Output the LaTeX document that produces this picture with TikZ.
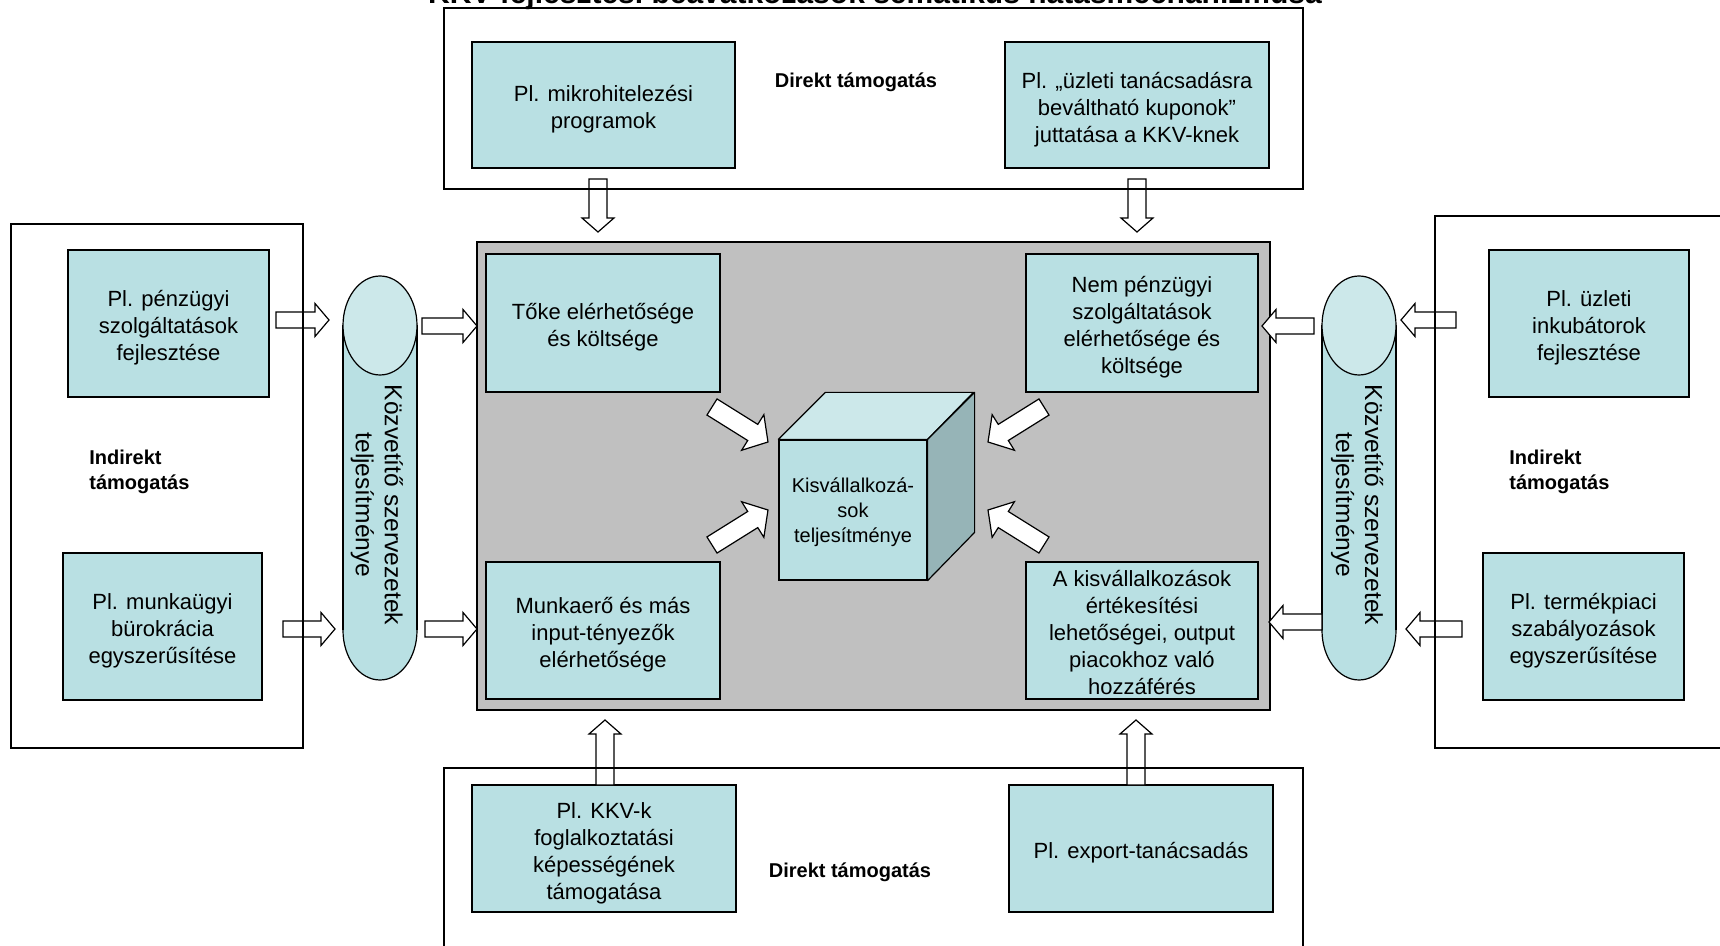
\documentclass[tikz,border=0pt]{standalone}
\usepackage{fontspec}
\setmainfont{Liberation Sans}
\usetikzlibrary{fit,calc}
\definecolor{boxfill}{HTML}{B9E0E3}
\definecolor{topfill}{HTML}{CCE8EA}
\definecolor{sidefill}{HTML}{96B4B7}
\definecolor{graybg}{HTML}{C0C0C0}
\newcommand\tp{\rule{0pt}{12.3pt}}
\newcommand\tpsmall{\rule{0pt}{10.6pt}}
\tikzset{
  box/.style={draw, fill=boxfill, line width=0.6pt, align=center, inner sep=0pt, font=\fontsize{11}{13.5}\selectfont},
  frame/.style={draw, line width=0.7pt, inner sep=0pt},
  lbl/.style={font=\bfseries\fontsize{10}{12.5}\selectfont, align=left, inner sep=0pt},
  blockarrow/.style={draw, fill=white, line width=0.6pt, line join=miter},
  cyltext/.style={font=\fontsize{12.3}{14.5}\selectfont, align=center, rotate=-90, inner sep=0pt},
  cylline/.style={draw, line width=0.6pt}
}
\makeatletter
% block arrow from coordinate #1 to coordinate #2; shaft width #3, head width #4, head length #5 (pixels)
\newcommand\barrow[5]{%
  \pgfmathanglebetweenpoints{\pgfpointanchor{#1}{center}}{\pgfpointanchor{#2}{center}}%
  \edef\ba@ang{\pgfmathresult}%
  \pgfpointdiff{\pgfpointanchor{#1}{center}}{\pgfpointanchor{#2}{center}}%
  \pgfgetlastxy{\ba@dx}{\ba@dy}%
  \pgfmathveclen{\ba@dx}{\ba@dy}%
  \edef\ba@len{\pgfmathresult}%
  \pgfmathsetmacro\ba@s{#3*0.25}%
  \pgfmathsetmacro\ba@h{#4*0.25}%
  \pgfmathsetmacro\ba@b{\ba@len-#5*0.5}%
  \begin{scope}[shift={(#1)}, rotate=\ba@ang]
    \draw[blockarrow] (0pt,-\ba@s pt) -- (\ba@b pt,-\ba@s pt) -- (\ba@b pt,-\ba@h pt)
      -- (\ba@len pt,0pt) -- (\ba@b pt,\ba@h pt) -- (\ba@b pt,\ba@s pt) -- (0pt,\ba@s pt) -- cycle;
  \end{scope}}
\makeatother
\begin{document}
\begin{tikzpicture}[x=0.5pt,y=-0.5pt]
\useasboundingbox (0,0) rectangle (1720,946);

% title (cut at the top of the page)
\node[font=\bfseries\fontsize{15}{18}\selectfont, anchor=base, inner sep=0pt] (title) at (875,4)
  {KKV-fejlesztési beavatkozások sematikus hatásmechanizmusa};

% central grey field
\node[draw, fill=graybg, line width=0.7pt, inner sep=0pt, minimum width=396.5pt, minimum height=234pt] (main) at (873.5,476) {};

% top direct support
\node[box, minimum width=131.5pt, minimum height=63pt] (mikro) at (603.5,105) {\tp Pl. mikrohitelezési\\programok};
\node[box, minimum width=132pt, minimum height=63pt] (kupon) at (1137,105) {\tp Pl. „üzleti tanácsadásra\\beváltható kuponok”\\juttatása a KKV-knek};
\node[lbl] (dtop) at (856,82) {Direkt támogatás};

% bottom direct support
\node[box, minimum width=132pt, minimum height=63.5pt] (kkvk) at (604,848.5) {\tp Pl. KKV-k\\foglalkoztatási\\képességének\\támogatása};
\node[box, minimum width=132pt, minimum height=63.5pt] (export) at (1141,848.5) {\tp Pl. export-tanácsadás};
\node[lbl] (dbot) at (850,872) {Direkt támogatás};

% left indirect support
\node[box, minimum width=100.5pt, minimum height=73.5pt] (penz) at (168.5,323.5) {\tp Pl. pénzügyi\\szolgáltatások\\fejlesztése};
\node[box, minimum width=99.5pt, minimum height=73.5pt] (munk) at (162.5,626.5) {\tp Pl. munkaügyi\\bürokrácia\\egyszerűsítése};
\node[lbl, anchor=west] (itl) at (89,472) {Indirekt\\támogatás};

% right indirect support
\node[box, minimum width=100pt, minimum height=73.5pt] (inkub) at (1589,323.5) {\tp Pl. üzleti\\inkubátorok\\fejlesztése};
\node[box, minimum width=100.5pt, minimum height=73.5pt] (termek) at (1583.5,626.5) {\tp Pl. termékpiaci\\szabályozások\\egyszerűsítése};
\node[lbl, anchor=west] (itr) at (1509,472) {Indirekt\\támogatás};

% inner boxes
\node[box, minimum width=117pt, minimum height=69pt] (toke) at (603,323) {\tp Tőke elérhetősége\\és költsége};
\node[box, minimum width=116pt, minimum height=69pt] (nem) at (1142,323) {\tp Nem pénzügyi\\szolgáltatások\\elérhetősége és\\költsége};
\node[box, minimum width=117pt, minimum height=68.5pt] (munka) at (603,630.5) {\tp Munkaerő és más\\input-tényezők\\elérhetősége};
\node[box, minimum width=116pt, minimum height=68.5pt] (kis) at (1142,630.5) {\tpsmall A kisvállalkozások\\értékesítési\\lehetőségei, output\\piacokhoz való\\hozzáférés};

% cube
\node[draw, fill=boxfill, line width=0.6pt, inner sep=0pt, minimum width=74pt, minimum height=70pt] (cubefront) at (853,510) {};
\draw[fill=topfill, line width=0.6pt, line join=round] (cubefront.north west) -- ++(47,-47) -- ++(148,0) -- (cubefront.north east) -- cycle;
\draw[fill=sidefill, line width=0.6pt, line join=round] (cubefront.north east) -- ++(47,-47) -- ++(0,140) -- (cubefront.south east) -- cycle;
\node[align=center, inner sep=0pt, font=\fontsize{10}{12.5}\selectfont] (cube) at (853,512) {Kisvállalkozá-\\sok\\teljesítménye};

% cylinders
\draw[cylline, fill=boxfill] (380,630.5) ellipse[x radius=37, y radius=49.5];
\fill[boxfill] (343,325.5) rectangle (417,630.5);
\draw[cylline] (343,325.5) -- (343,630.5) (417,325.5) -- (417,630.5);
\draw[cylline, fill=topfill] (380,325.5) ellipse[x radius=37, y radius=49.5];
\node[cyltext] (lcyl) at (377,505) {Közvetítő szervezetek\\teljesítménye};

\draw[cylline, fill=boxfill] (1359,630.5) ellipse[x radius=37, y radius=49.5];
\fill[boxfill] (1322,325.5) rectangle (1396,630.5);
\draw[cylline] (1322,325.5) -- (1322,630.5) (1396,325.5) -- (1396,630.5);
\draw[cylline, fill=topfill] (1359,325.5) ellipse[x radius=37, y radius=49.5];
\node[cyltext] (rcyl) at (1357,505) {Közvetítő szervezetek\\teljesítménye};

% arrow end points
\coordinate (d1s) at (598,179);  \coordinate (d1e) at (598,232);
\coordinate (d2s) at (1137,179); \coordinate (d2e) at (1137,232);
\coordinate (u1s) at (605,785);  \coordinate (u1e) at (605,720);
\coordinate (u2s) at (1136,785); \coordinate (u2e) at (1136,720);
\coordinate (l1s) at (276,320);  \coordinate (l1e) at (329,320);
\coordinate (l2s) at (283,629);  \coordinate (l2e) at (335,629);
\coordinate (l3s) at (422,326);  \coordinate (l3e) at (477,326);
\coordinate (l4s) at (425,629);  \coordinate (l4e) at (477,629);
\coordinate (r1s) at (1456,320); \coordinate (r1e) at (1401,320);
\coordinate (r2s) at (1462,629); \coordinate (r2e) at (1406,629);
\coordinate (r3s) at (1314,326); \coordinate (r3e) at (1262,326);
\coordinate (r4s) at (1322,622); \coordinate (r4e) at (1269,622);
\coordinate (c1s) at (712,407);  \coordinate (c1e) at (768,442);
\coordinate (c2s) at (712,545);  \coordinate (c2e) at (768,510);
\coordinate (c3s) at (1044,407); \coordinate (c3e) at (988,442);
\coordinate (c4s) at (1044,545); \coordinate (c4e) at (988,510);

\barrow{d1s}{d1e}{18}{32}{14}
\barrow{d2s}{d2e}{18}{32}{14}
\barrow{u1s}{u1e}{18}{32}{14}
\barrow{u2s}{u2e}{18}{32}{14}
\barrow{l1s}{l1e}{16}{33}{14}
\barrow{l2s}{l2e}{16}{33}{14}
\barrow{l3s}{l3e}{16}{33}{14}
\barrow{l4s}{l4e}{16}{33}{14}
\barrow{r1s}{r1e}{16}{33}{14}
\barrow{r2s}{r2e}{16}{33}{14}
\barrow{r3s}{r3e}{16}{33}{14}
\barrow{r4s}{r4e}{16}{33}{14}
\barrow{c1s}{c1e}{19}{42}{18}
\barrow{c2s}{c2e}{19}{42}{18}
\barrow{c3s}{c3e}{19}{42}{18}
\barrow{c4s}{c4e}{19}{42}{18}

% outer frames
\node[frame, fit={(444,8)(1303,189)}] (topframe) {};
\node[frame, fit={(444,768)(1303,990)}] (botframe) {};
\node[frame, fit={(11,224)(303,748)}] (leftframe) {};
\node[frame, fit={(1435,216)(1760,748)}] (rightframe) {};
\end{tikzpicture}
\end{document}
